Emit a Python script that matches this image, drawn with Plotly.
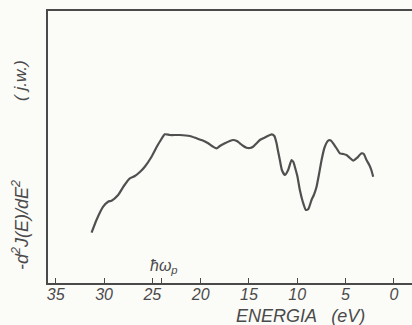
import plotly.graph_objects as go

energy = [31.29, 30.78, 30.09, 29.58, 29.22, 28.54, 27.95, 27.33, 26.81, 26.29, 25.78, 25.08,
          24.57, 24.12, 23.71, 23.19, 22.15, 21.12, 20.42, 19.77, 19.22, 18.74, 18.35, 18.01,
          17.49, 16.98, 16.64, 16.25, 15.94, 15.58, 15.25, 14.91, 14.57, 14.23, 13.87, 13.35,
          12.66, 12.37, 12.14, 12.01, 11.80, 11.59, 11.28, 10.94, 10.59, 10.40, 10.25, 9.99,
          9.73, 9.42, 9.11, 8.85, 8.52, 8.28, 8.00, 7.76, 7.48, 7.19, 6.80, 6.52, 6.28, 5.95,
          5.59, 5.23, 4.90, 4.55, 4.21, 3.83, 3.34, 3.11, 2.83, 2.54, 2.33, 2.14]
intensity = [50.3, 63, 76.3, 81.3, 82.3, 88, 97, 104.7, 107, 111, 116.3, 126.3,
             135.7, 143, 148.7, 148, 148, 147, 144.7, 142.5, 139.7, 136.5, 134.7, 137,
             139.7, 142, 143, 142, 139.7, 137, 135.3, 135, 136.3, 139.5, 143, 145.5,
             148.7, 147, 139.7, 133, 123, 113, 108, 113, 123, 121, 116.3, 107,
             93, 81, 73, 74, 83, 88, 96.3, 108, 123, 135, 142.3, 142.5, 139.7, 135,
             129.7, 129, 128, 125, 122.3, 125, 129.7, 129, 123, 118, 113, 106.3]

tick_vals = [35, 30, 25, 24, 20, 15, 10, 5, 0]
tick_text = ["35", "30", "25", "", "20", "15", "10", "5", "0"]
plasmon_energy = 23.8

ink = "#4a4a4a"
font = "Liberation Sans"

fig = go.Figure()
fig.add_trace(go.Scatter(x=energy, y=intensity, mode="lines",
                         line=dict(color="#505050", width=2.2, shape="spline", smoothing=0.5),
                         hoverinfo="skip", showlegend=False))

fig.update_layout(
    width=412, height=325,
    margin=dict(l=48, r=0, t=11, b=42),
    paper_bgcolor="#fbfbf8", plot_bgcolor="#fbfbf8",
    xaxis=dict(range=[35.8, -1.88], showgrid=False, zeroline=False,
               showline=True, linecolor=ink, linewidth=1.5, mirror=True,
               ticks="inside", ticklen=5, tickwidth=1.3, tickcolor=ink,
               tickvals=tick_vals, ticktext=["<i>%s</i>" % t if t else "" for t in tick_text],
               tickfont=dict(family=font, size=16, color=ink), ticklabelstandoff=-4),
    yaxis=dict(range=[0, 272], showgrid=False, zeroline=False,
               showline=True, linecolor=ink, linewidth=1.5,
               showticklabels=False, ticks=""),
    annotations=[
        dict(text="<i>ENERGIA   (eV)</i>", xref="paper", yref="paper",
             x=(300 - 48) / 364, y=(283 - 316) / 272, showarrow=False,
             xanchor="center", yanchor="middle",
             font=dict(family=font, size=18, color=ink)),
        dict(text="<i>-d<sup>2</sup>J(E)/dE<sup>2</sup></i>", xref="paper", yref="paper",
             x=(20 - 48) / 364, y=(283 - 225) / 272, showarrow=False, textangle=-90,
             xanchor="center", yanchor="middle",
             font=dict(family=font, size=18, color=ink)),
        dict(text="<i>( j.w.)</i>", xref="paper", yref="paper",
             x=(20 - 48) / 364, y=(283 - 81) / 272, showarrow=False, textangle=-90,
             xanchor="center", yanchor="middle",
             font=dict(family=font, size=17, color=ink)),
        dict(text="<i>ħω<sub>p</sub></i>", xref="x", yref="paper",
             x=plasmon_energy, y=(283 - 266) / 272, showarrow=False,
             xanchor="center", yanchor="middle",
             font=dict(family=font, size=16, color=ink)),
    ],
)

fig.write_html("out.html")
